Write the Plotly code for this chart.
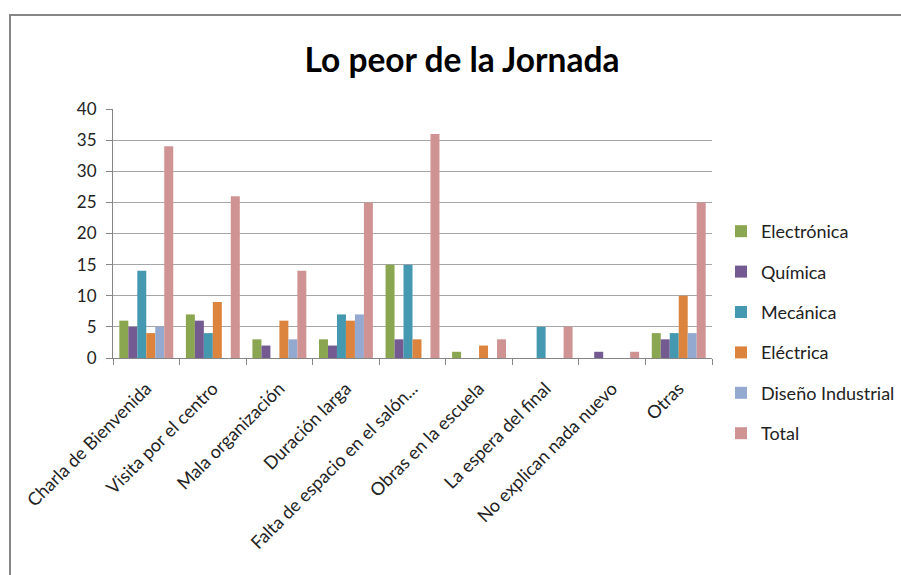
import plotly.graph_objects as go

categories = ["Charla de Bienvenida", "Visita por el centro", "Mala organización",
              "Duración larga", "Falta de espacio en el salón...", "Obras en la escuela",
              "La espera del final", "No explican nada nuevo", "Otras"]

electronica = [6, 7, 3, 3, 15, 1, 0, 0, 4]
quimica = [5, 6, 2, 2, 3, 0, 0, 1, 3]
mecanica = [14, 4, 0, 7, 15, 0, 5, 0, 4]
electrica = [4, 9, 6, 6, 3, 2, 0, 0, 10]
diseno = [5, 0, 3, 7, 0, 0, 0, 0, 4]
total = [34, 26, 14, 25, 36, 3, 5, 1, 25]

series_names = ["Electrónica", "Química", "Mecánica", "Eléctrica", "Diseño Industrial", "Total"]
series_values = [electronica, quimica, mecanica, electrica, diseno, total]
colors = ["#8BA650", "#735A90", "#4498B0", "#DC843E", "#94A9CF", "#D09393"]

FONT = "Lato, 'Open Sans', sans-serif"

fig = go.Figure()
for i, (name, vals, col) in enumerate(zip(series_names, series_values, colors)):
    fig.add_trace(go.Bar(
        x=categories, y=vals, name=name, legendgroup=f"g{i}",
        marker=dict(color=col, line=dict(width=0)),
    ))

W, H = 901, 575
L, R, T, B = 113, 189, 109, 217
pw, ph = W - L - R, H - T - B

def px_x(x):
    return (x - L) / pw

def px_y(y):
    return 1 - (y - T) / ph

fig.update_layout(
    width=W, height=H,
    margin=dict(l=L, r=R, t=T, b=B, autoexpand=False),
    paper_bgcolor="white", plot_bgcolor="white",
    barmode="group", bargap=0.19, bargroupgap=0,
    font=dict(family=FONT, size=16, color="#222222"),
    title=dict(text="<b>Lo peor de la Jornada</b>", x=462 / W, xanchor="center",
               y=1 - 60 / H, yanchor="middle",
               font=dict(family=FONT, size=33.5, color="black")),
    showlegend=True,
    legend=dict(x=px_x(721), xanchor="left", y=px_y(213), yanchor="top",
                font=dict(family=FONT, size=18, color="#222222"),
                tracegroupgap=14, bgcolor="rgba(0,0,0,0)", itemclick=False),
    xaxis=dict(type="category", tickangle=-45, showline=True, linecolor="#868686", linewidth=1,
               ticks="outside", ticklen=6, tickcolor="#868686", tickson="boundaries",
               ticklabelstandoff=12,
               showgrid=False, tickfont=dict(family=FONT, size=18, color="#222222")),
    yaxis=dict(range=[0, 40], dtick=5, showline=True, linecolor="#868686", linewidth=1,
               ticks="outside", ticklen=6, tickcolor="#868686",
               showgrid=True, gridcolor="#A6A6A6", gridwidth=1, zeroline=False,
               ticklabelstandoff=6,
               tickfont=dict(family=FONT, size=17, color="#222222")),
    shapes=[dict(type="rect", xref="paper", yref="paper",
                 x0=px_x(10), x1=px_x(1000), y0=px_y(700), y1=px_y(15),
                 line=dict(color="#868686", width=2), fillcolor="rgba(0,0,0,0)", layer="below")],
)

fig.write_html("out.html", config={"displayModeBar": False},
               post_script="document.body.style.margin='0';")
